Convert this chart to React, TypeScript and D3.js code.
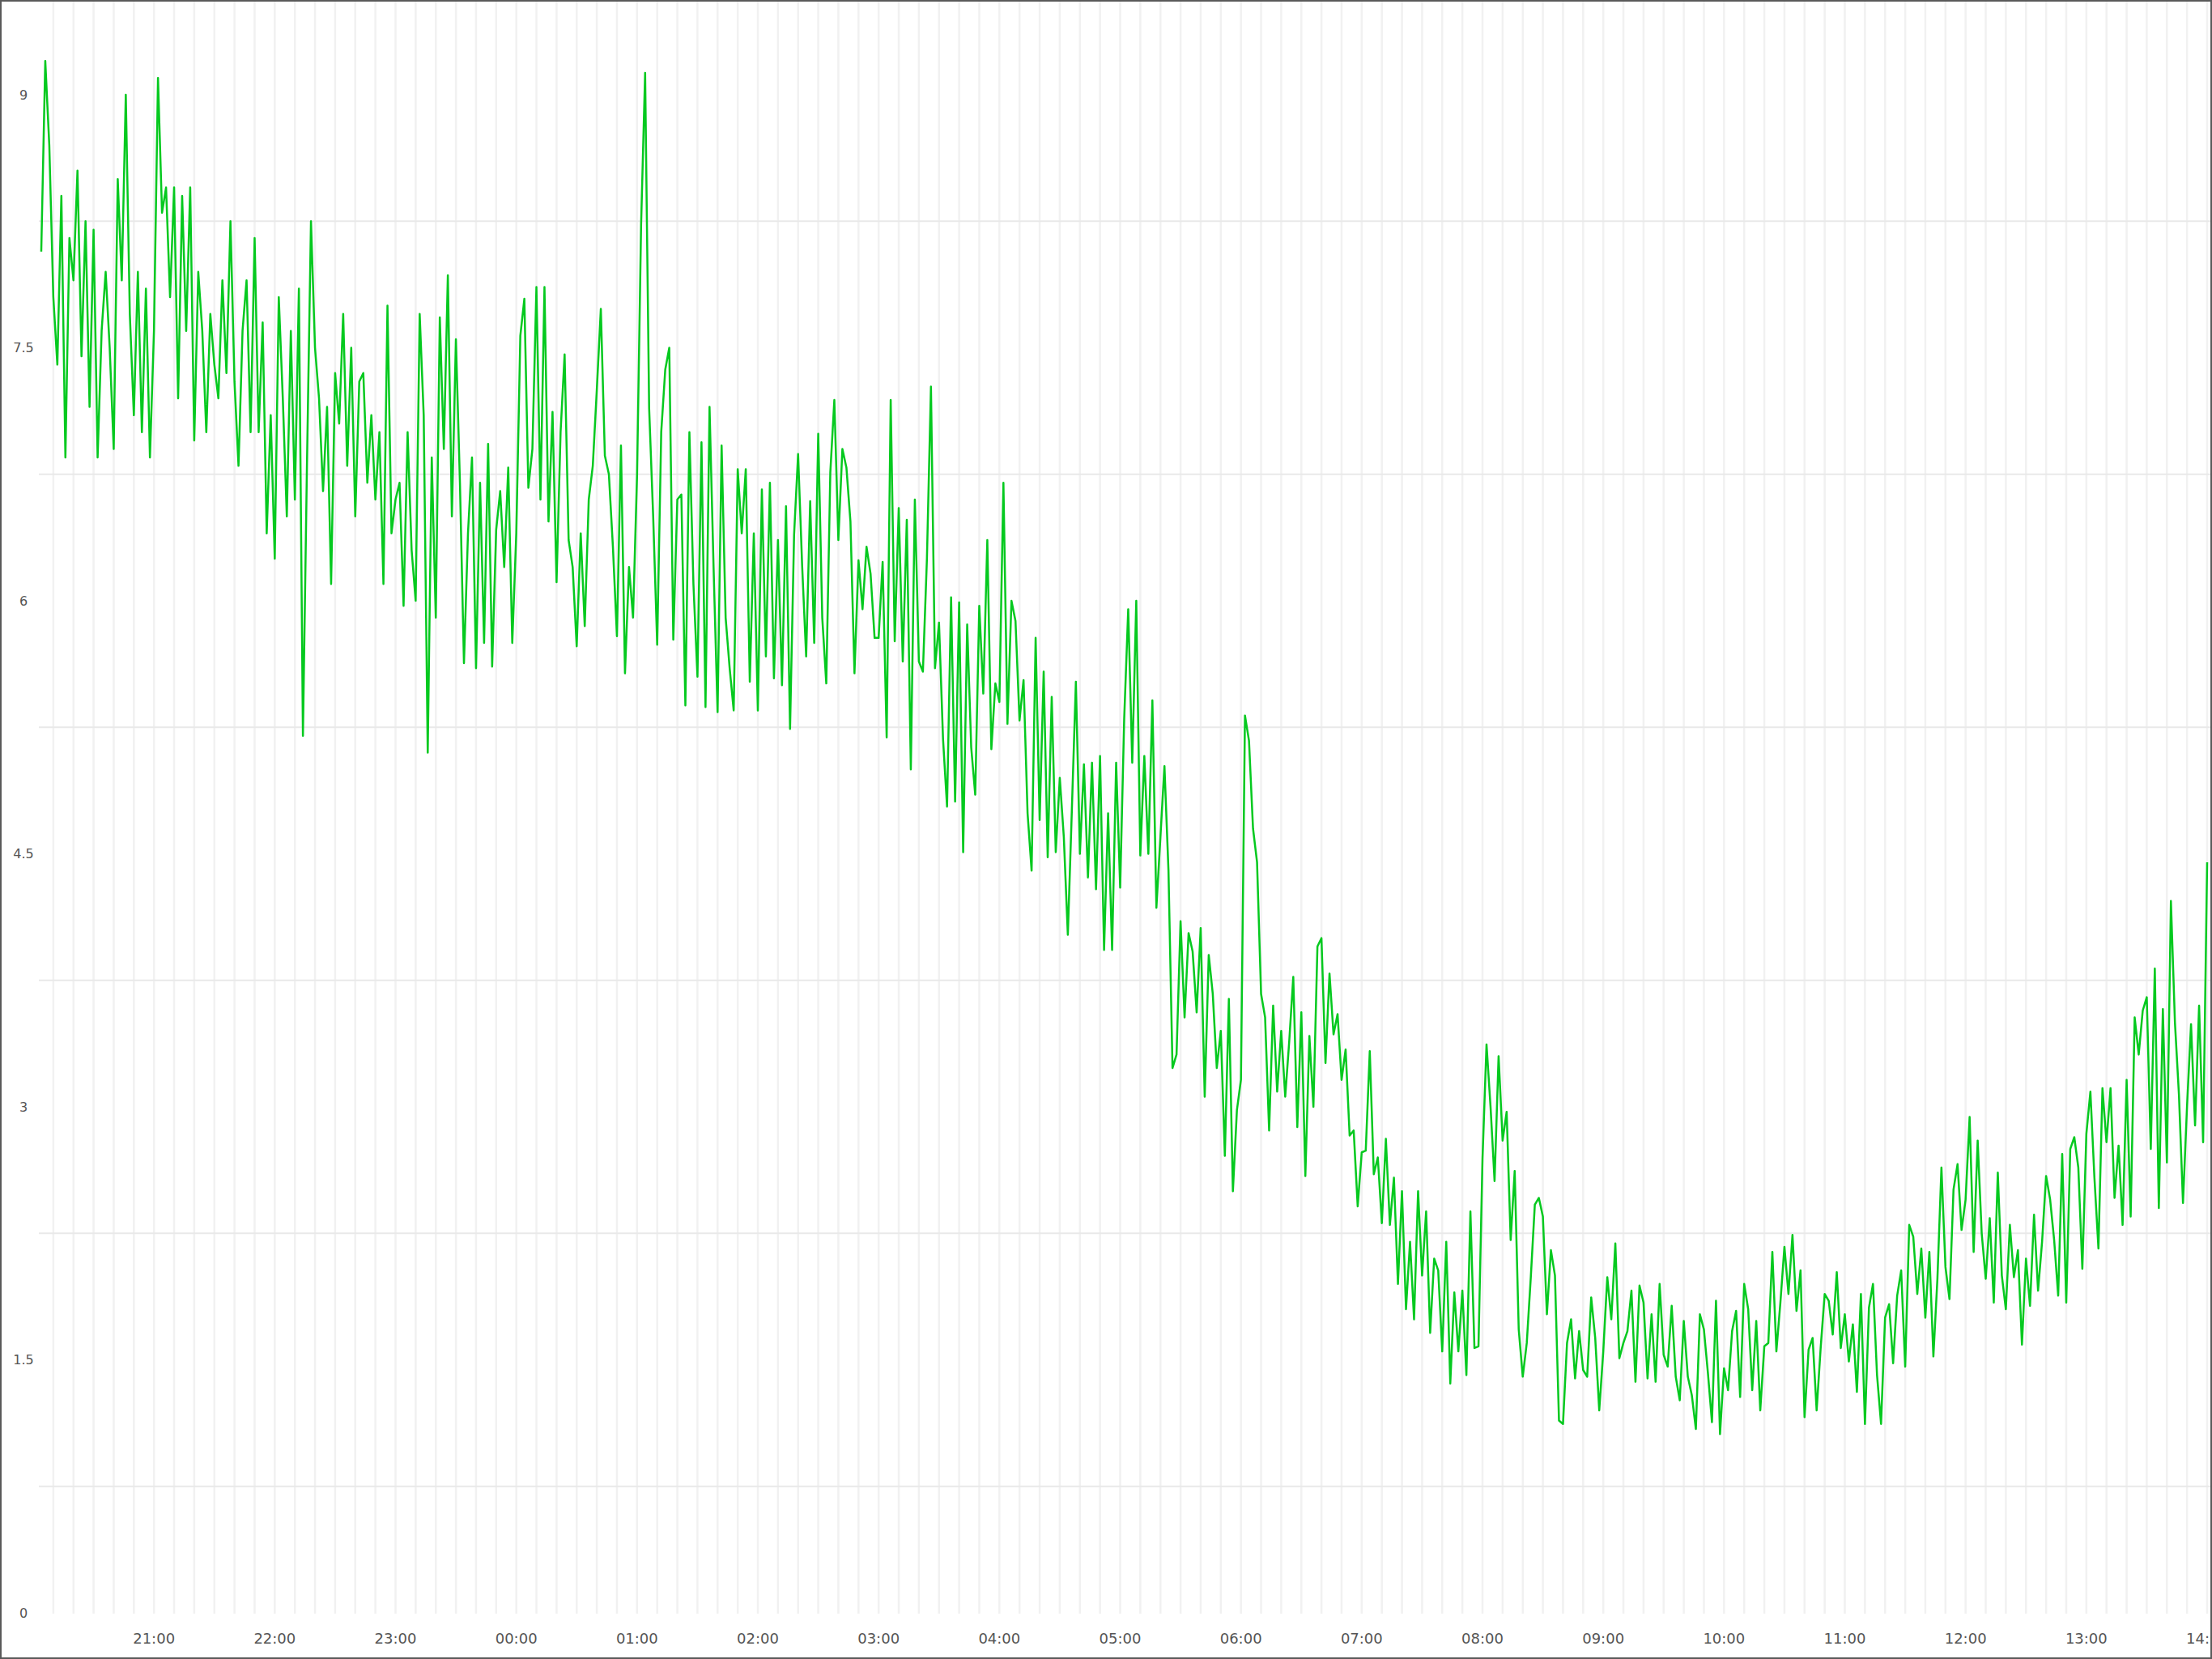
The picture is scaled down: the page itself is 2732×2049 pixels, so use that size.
import * as d3 from "d3";
import React, { useEffect, useRef } from "react";

const WIDTH = 2732;
const HEIGHT = 2049;

// one reading every 2 minutes, starting 20:04
const evening = [
  8.07, 9.2, 8.7, 7.8, 7.4, 8.4, 6.85, 8.15, 7.9, 8.55, 7.45, 8.25, 7.15, 8.2, 6.85, 7.6, 7.95, 7.5, 6.9, 8.5, 7.9, 9.0, 7.7, 7.1, 7.95, 7.0, 7.85, 6.85,
  7.6, 9.1, 8.3, 8.45, 7.8, 8.45, 7.2, 8.4, 7.6, 8.45, 6.95, 7.95, 7.6, 7.0, 7.7, 7.4, 7.2, 7.9, 7.35, 8.25, 7.3, 6.8, 7.6, 7.9, 7.0, 8.15, 7.0, 7.65, 6.4, 7.1,
  6.25, 7.8, 7.2, 6.5, 7.6, 6.6, 7.85, 5.2, 6.8, 8.25, 7.5, 7.2, 6.65, 7.15, 6.1, 7.35, 7.05, 7.7, 6.8, 7.5, 6.5, 7.3, 7.35, 6.7, 7.1, 6.6, 7.0, 6.1, 7.75, 6.4,
  6.6, 6.7, 5.97, 7.0, 6.3, 6.0, 7.7, 7.1, 5.1, 6.85, 5.9, 7.68, 6.9, 7.93, 6.5, 7.55, 6.7, 5.63, 6.4, 6.85, 5.6, 6.7, 5.75, 6.93, 5.61, 6.42, 6.65, 6.2, 6.79, 5.75,
]; // 20:04 - 23:58

const night = [
  6.4, 7.57, 7.79, 6.67, 6.9, 7.86, 6.6, 7.86, 6.47, 7.12, 6.11, 7.0, 7.46, 6.36, 6.2, 5.73, 6.4, 5.85, 6.6, 6.8, 7.25, 7.73, 6.86, 6.75, 6.32, 5.79, 6.92, 5.57, 6.2, 5.9,
  6.75, 8.23, 9.13, 7.14, 6.5, 5.74, 7.0, 7.37, 7.5, 5.77, 6.6, 6.63, 5.38, 7.0, 6.1, 5.55, 6.94, 5.37, 7.15, 6.2, 5.34, 6.92, 5.9, 5.6, 5.35, 6.78, 6.4, 6.78, 5.52, 6.4,
  5.35, 6.66, 5.67, 6.7, 5.54, 6.36, 5.5, 6.56, 5.24, 6.39, 6.87, 6.21, 5.67, 6.59, 5.75, 6.99, 5.9, 5.51, 6.76, 7.19, 6.36, 6.9, 6.79, 6.47, 5.57, 6.24, 5.95, 6.32, 6.16, 5.78,
  5.78, 6.23, 5.19, 7.19, 5.76, 6.55, 5.64, 6.48, 5.0, 6.6, 5.64, 5.58, 6.25, 7.27, 5.6, 5.87, 5.18, 4.78, 6.02, 4.81, 5.99, 4.51, 5.86, 5.13, 4.85, 5.97, 5.45, 6.36, 5.12, 5.51,
]; // 00:00 - 03:58

const dawn = [
  5.4, 6.7, 5.27, 6.0, 5.88, 5.29, 5.53, 4.74, 4.4, 5.78, 4.7, 5.58, 4.48, 5.43, 4.51, 4.95, 4.6, 4.02, 4.76, 5.52, 4.5, 5.03, 4.36, 5.04, 4.29, 5.08, 3.93, 4.74, 3.93, 5.04,
  4.3, 5.3, 5.95, 5.04, 6.0, 4.49, 5.08, 4.5, 5.41, 4.18, 4.6, 5.02, 4.4, 3.23, 3.31, 4.1, 3.53, 4.03, 3.92, 3.56, 4.06, 3.06, 3.9, 3.67, 3.23, 3.45, 2.71, 3.64, 2.5, 2.98,
  3.16, 5.32, 5.17, 4.65, 4.45, 3.67, 3.53, 2.86, 3.6, 3.09, 3.45, 3.06, 3.39, 3.77, 2.88, 3.56, 2.59, 3.42, 3.0, 3.95, 4.0, 3.26, 3.79, 3.43, 3.55, 3.16, 3.34, 2.83, 2.86, 2.41,
  2.73, 2.74, 3.33, 2.6, 2.7, 2.31, 2.81, 2.3, 2.58, 1.95, 2.5, 1.8, 2.2, 1.74, 2.5, 2.0, 2.38, 1.66, 2.1, 2.03, 1.55, 2.2, 1.36, 1.9, 1.55, 1.91, 1.41, 2.38, 1.57, 1.58,
]; // 04:00 - 07:58

const morning = [
  2.69, 3.37, 3.0, 2.56, 3.3, 2.8, 2.97, 2.21, 2.62, 1.68, 1.4, 1.6, 1.99, 2.42, 2.46, 2.35, 1.77, 2.15, 2.0, 1.14, 1.12, 1.6, 1.74, 1.39, 1.67, 1.44, 1.4, 1.87, 1.63, 1.2,
  1.55, 1.99, 1.74, 2.19, 1.51, 1.6, 1.67, 1.91, 1.37, 1.94, 1.84, 1.39, 1.77, 1.37, 1.95, 1.53, 1.46, 1.82, 1.4, 1.26, 1.73, 1.4, 1.29, 1.09, 1.77, 1.68, 1.42, 1.13, 1.85, 1.06,
  1.45, 1.32, 1.67, 1.79, 1.28, 1.95, 1.8, 1.32, 1.73, 1.2, 1.58, 1.6, 2.14, 1.55, 1.84, 2.17, 1.89, 2.24, 1.79, 2.03, 1.16, 1.56, 1.63, 1.2, 1.57, 1.89, 1.85, 1.65, 2.02, 1.57,
  1.77, 1.49, 1.71, 1.31, 1.89, 1.12, 1.81, 1.95, 1.41, 1.12, 1.75, 1.83, 1.48, 1.88, 2.03, 1.46, 2.3, 2.23, 1.89, 2.16, 1.75, 2.14, 1.52, 1.98, 2.64, 2.05, 1.86, 2.51, 2.66, 2.27,
]; // 08:00 - 11:58

const midday = [
  2.45, 2.94, 2.14, 2.8, 2.25, 1.98, 2.34, 1.84, 2.61, 2.0, 1.8, 2.3, 1.99, 2.15, 1.59, 2.1, 1.82, 2.36, 1.91, 2.2, 2.59, 2.45, 2.21, 1.88, 2.72, 1.84, 2.75, 2.82, 2.64, 2.04,
  2.84, 3.09, 2.58, 2.16, 3.11, 2.79, 3.11, 2.46, 2.77, 2.3, 3.16, 2.35, 3.53, 3.31, 3.57, 3.65, 2.75, 3.82, 2.4, 3.58, 2.67, 4.22, 3.5, 3.07, 2.43, 3.0, 3.49, 2.89, 3.6, 2.79,
  4.45,
]; // 12:00 - 14:00

const seriesStart = new Date(2015, 5, 1, 20, 4);
const stepMinutes = 2;
const domainStart = new Date(2015, 5, 1, 20, 0);
const domainEnd = new Date(2015, 5, 2, 14, 0);

const yTickValues = [0, 1.5, 3, 4.5, 6, 7.5, 9];
const yGridValues = [0.75, 2.25, 3.75, 5.25, 6.75, 8.25];

export default function App() {
  const ref = useRef<SVGSVGElement>(null);

  useEffect(() => {
    const svg = d3.select(ref.current);
    svg.selectAll("*").remove();

    const values = [...evening, ...night, ...dawn, ...morning, ...midday];
    const data = values.map((v, i) => ({
      t: d3.timeMinute.offset(seriesStart, i * stepMinutes),
      v,
    }));

    const x = d3.scaleTime().domain([domainStart, domainEnd]).range([41, 2726]);
    const y = d3.scaleLinear().domain([0, 9]).range([1992, 117]);
    const plotLeft = 48;
    const plotRight = WIDTH - 2;

    svg
      .append("defs")
      .append("clipPath")
      .attr("id", "frame-clip")
      .append("rect")
      .attr("x", 0)
      .attr("y", 0)
      .attr("width", WIDTH - 2)
      .attr("height", HEIGHT - 2);

    const g = svg.append("g").attr("clip-path", "url(#frame-clip)");

    g.append("rect").attr("width", WIDTH).attr("height", HEIGHT).attr("fill", "#fff");

    // vertical grid, every 10 minutes
    const minuteTicks = x.ticks(d3.timeMinute.every(10)).filter((d) => x(d) >= plotLeft);
    g.selectAll("line.vgrid")
      .data(minuteTicks)
      .enter()
      .append("line")
      .attr("class", "vgrid")
      .attr("x1", (d) => x(d))
      .attr("x2", (d) => x(d))
      .attr("y1", 0)
      .attr("y2", 1993)
      .attr("stroke", "#f1f1f1")
      .attr("stroke-width", 2.5);

    // horizontal grid, between the labels
    g.selectAll("line.hgrid")
      .data(yGridValues)
      .enter()
      .append("line")
      .attr("class", "hgrid")
      .attr("x1", plotLeft)
      .attr("x2", plotRight)
      .attr("y1", (d) => y(d))
      .attr("y2", (d) => y(d))
      .attr("stroke", "#e9e9e9")
      .attr("stroke-width", 2);

    const line = d3
      .line<{ t: Date; v: number }>()
      .x((d) => x(d.t))
      .y((d) => y(d.v));

    g.append("path")
      .datum(data)
      .attr("d", line)
      .attr("fill", "none")
      .attr("stroke", "#05c91f")
      .attr("stroke-width", 2.5)
      .attr("stroke-linejoin", "round");

    // y labels
    g.selectAll("text.ylab")
      .data(yTickValues)
      .enter()
      .append("text")
      .attr("class", "ylab")
      .attr("x", 29)
      .attr("y", (d) => y(d))
      .attr("dy", "0.35em")
      .attr("text-anchor", "middle")
      .style("font-family", "DejaVu Sans, sans-serif")
      .style("font-size", "16px")
      .style("fill", "#555")
      .text((d) => String(d));

    // x labels, hourly
    const hourTicks = x.ticks(d3.timeHour.every(1)).filter((d) => x(d) > plotLeft);
    const fmt = d3.timeFormat("%H:%M");
    g.selectAll("text.xlab")
      .data(hourTicks)
      .enter()
      .append("text")
      .attr("class", "xlab")
      .attr("x", (d) => x(d))
      .attr("y", 2030)
      .attr("text-anchor", "middle")
      .style("font-family", "DejaVu Sans, sans-serif")
      .style("font-size", "18px")
      .style("fill", "#555")
      .text((d) => fmt(d));

    // outer frame
    svg
      .append("rect")
      .attr("x", 1)
      .attr("y", 1)
      .attr("width", WIDTH - 2)
      .attr("height", HEIGHT - 2)
      .attr("fill", "none")
      .attr("stroke", "#5a5a5a")
      .attr("stroke-width", 2);
  }, []);

  return (
    <svg
      ref={ref}
      width={WIDTH}
      height={HEIGHT}
      style={{ position: "absolute", left: 0, top: 0, display: "block" }}
    />
  );
}
